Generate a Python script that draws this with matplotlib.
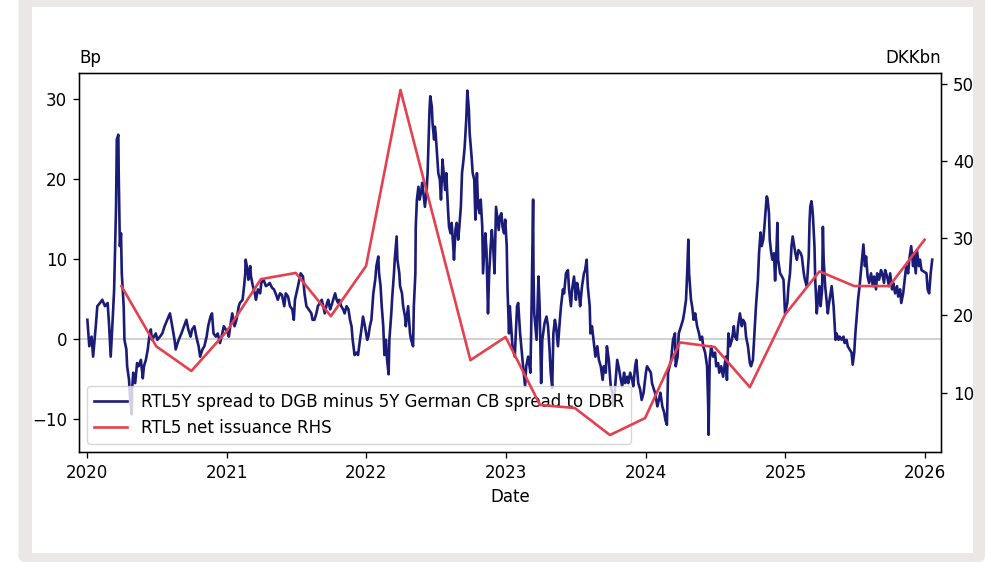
import pandas as pd
import matplotlib
matplotlib.use("Agg")
import matplotlib.pyplot as plt
import matplotlib.dates as mdates
from matplotlib.patches import Rectangle, FancyBboxPatch
from matplotlib.transforms import IdentityTransform

# RTL5Y spread to DGB minus 5Y German CB spread to DBR, bp (date, value)
spread_2020 = [
    ("2020-01-02", 2.4), ("2020-01-07", -0.9), ("2020-01-13", 0.3), ("2020-01-17", -2.2),
    ("2020-01-24", 1.6), ("2020-01-28", 4.1), ("2020-02-04", 4.5), ("2020-02-10", 4.9),
    ("2020-02-17", 4.1), ("2020-02-24", 4.5), ("2020-02-28", 1.6), ("2020-03-03", -2.2),
    ("2020-03-09", 3.2), ("2020-03-12", 6.2), ("2020-03-17", 16.5), ("2020-03-19", 24.9),
    ("2020-03-23", 25.5), ("2020-03-24", 20.7), ("2020-03-27", 11.6), ("2020-03-30", 13.2),
    ("2020-04-01", 8.2), ("2020-04-06", 4.1), ("2020-04-08", -0.1), ("2020-04-13", -1.3),
    ("2020-04-15", -3.4), ("2020-04-20", -5.1), ("2020-04-21", -6.1), ("2020-04-24", -8.0),
    ("2020-04-27", -9.4), ("2020-04-28", -6.3), ("2020-05-01", -4.2), ("2020-05-06", -5.5),
    ("2020-05-11", -3.0), ("2020-05-15", -3.4), ("2020-05-21", -2.6), ("2020-05-26", -4.9),
    ("2020-05-29", -3.4), ("2020-06-03", -2.6), ("2020-06-08", -1.3), ("2020-06-12", 0.3),
    ("2020-06-16", 1.2), ("2020-06-19", -0.1), ("2020-06-24", 0.3), ("2020-06-29", 0.7),
    ("2020-07-03", -0.1), ("2020-07-10", 0.3), ("2020-07-16", 0.7), ("2020-07-22", 1.6),
    ("2020-07-29", 2.4), ("2020-08-05", 3.2), ("2020-08-11", 1.6), ("2020-08-17", -0.1),
    ("2020-08-20", -1.3), ("2020-08-25", -0.5), ("2020-08-28", -0.1), ("2020-09-04", 0.7),
    ("2020-09-11", 1.6), ("2020-09-17", 2.4), ("2020-09-22", 1.2), ("2020-09-28", 0.3),
    ("2020-10-02", 1.2), ("2020-10-08", 1.6), ("2020-10-13", 0.3), ("2020-10-19", -0.9),
    ("2020-10-23", -2.2), ("2020-10-29", -1.3), ("2020-11-03", -0.9), ("2020-11-09", 0.3),
    ("2020-11-13", 1.6), ("2020-11-19", 2.8), ("2020-11-23", 3.2), ("2020-11-27", 0.7),
    ("2020-12-03", 0.3), ("2020-12-08", 0.7), ("2020-12-14", -0.5), ("2020-12-18", 0.3),
    ("2020-12-24", 1.6),
]
spread_2021 = [
    ("2021-01-04", 0.7), ("2021-01-06", 0.3), ("2021-01-11", 2.0), ("2021-01-15", 3.2),
    ("2021-01-21", 1.6), ("2021-01-26", 2.4), ("2021-02-01", 4.1), ("2021-02-04", 4.5),
    ("2021-02-11", 4.9), ("2021-02-15", 6.6), ("2021-02-18", 8.2), ("2021-02-19", 9.9),
    ("2021-02-24", 8.6), ("2021-02-26", 7.4), ("2021-03-03", 9.1), ("2021-03-05", 7.8),
    ("2021-03-10", 6.6), ("2021-03-15", 5.7), ("2021-03-18", 4.9), ("2021-03-23", 6.2),
    ("2021-03-29", 5.7), ("2021-04-01", 7.0), ("2021-04-07", 7.4), ("2021-04-13", 6.6),
    ("2021-04-19", 6.8), ("2021-04-23", 7.0), ("2021-04-29", 6.4), ("2021-05-04", 6.2),
    ("2021-05-10", 5.5), ("2021-05-14", 4.9), ("2021-05-20", 5.7), ("2021-05-25", 5.5),
    ("2021-05-31", 4.1), ("2021-06-04", 5.7), ("2021-06-10", 5.3), ("2021-06-15", 4.1),
    ("2021-06-21", 3.7), ("2021-06-25", 2.4), ("2021-06-28", 4.9), ("2021-07-06", 6.6),
    ("2021-07-13", 8.2), ("2021-07-19", 7.8), ("2021-07-23", 5.7), ("2021-07-28", 4.1),
    ("2021-08-03", 3.7), ("2021-08-10", 3.2), ("2021-08-13", 2.4), ("2021-08-18", 2.4),
    ("2021-08-23", 3.2), ("2021-08-27", 4.1), ("2021-09-01", 4.5), ("2021-09-06", 4.9),
    ("2021-09-10", 4.1), ("2021-09-14", 3.2), ("2021-09-20", 4.5), ("2021-09-23", 4.9),
    ("2021-09-28", 3.7), ("2021-10-01", 4.1), ("2021-10-06", 4.9), ("2021-10-11", 5.7),
    ("2021-10-15", 4.9), ("2021-10-19", 4.5), ("2021-10-22", 4.9), ("2021-10-27", 4.1),
    ("2021-11-01", 3.7), ("2021-11-05", 3.2), ("2021-11-10", 4.1), ("2021-11-15", 3.7),
    ("2021-11-19", 2.4), ("2021-11-23", 1.6), ("2021-11-26", -0.1), ("2021-12-01", -2.0),
    ("2021-12-06", -1.7), ("2021-12-10", -2.0), ("2021-12-14", -0.5), ("2021-12-20", 1.6),
    ("2021-12-23", 2.8), ("2021-12-28", 1.6),
]
spread_2022 = [
    ("2022-01-03", -0.1), ("2022-01-06", 0.3), ("2022-01-10", 1.6), ("2022-01-14", 2.4),
    ("2022-01-19", 5.7), ("2022-01-24", 7.4), ("2022-01-27", 9.1), ("2022-02-01", 10.3),
    ("2022-02-03", 8.2), ("2022-02-07", 6.6), ("2022-02-10", 4.1), ("2022-02-14", 1.6),
    ("2022-02-17", -2.0), ("2022-02-21", -0.1), ("2022-02-24", -2.6), ("2022-02-28", -4.4),
    ("2022-03-02", -0.1), ("2022-03-07", 3.2), ("2022-03-09", 4.9), ("2022-03-14", 8.2),
    ("2022-03-16", 9.9), ("2022-03-21", 12.8), ("2022-03-23", 9.9), ("2022-03-28", 8.2),
    ("2022-03-30", 6.6), ("2022-04-04", 5.7), ("2022-04-07", 4.1), ("2022-04-12", 2.8),
    ("2022-04-14", 1.6), ("2022-04-20", 4.1), ("2022-04-25", 0.7), ("2022-04-28", -0.1),
    ("2022-05-03", -0.9), ("2022-05-05", 4.1), ("2022-05-09", 8.2), ("2022-05-10", 14.0),
    ("2022-05-13", 17.4), ("2022-05-17", 19.0), ("2022-05-20", 17.4), ("2022-05-24", 18.3),
    ("2022-05-27", 19.5), ("2022-05-31", 17.8), ("2022-06-03", 16.5), ("2022-06-07", 18.3),
    ("2022-06-10", 20.7), ("2022-06-13", 25.7), ("2022-06-15", 28.6), ("2022-06-17", 30.3),
    ("2022-06-21", 29.0), ("2022-06-23", 26.9), ("2022-06-27", 24.9), ("2022-06-29", 26.5),
    ("2022-07-01", 25.7), ("2022-07-05", 22.8), ("2022-07-08", 20.7), ("2022-07-12", 19.9),
    ("2022-07-15", 17.4), ("2022-07-19", 22.4), ("2022-07-22", 20.7), ("2022-07-26", 18.6),
    ("2022-07-29", 20.7), ("2022-08-02", 16.5), ("2022-08-05", 14.0), ("2022-08-09", 13.2),
    ("2022-08-12", 14.5), ("2022-08-16", 11.6), ("2022-08-18", 9.9), ("2022-08-22", 13.7),
    ("2022-08-25", 14.5), ("2022-08-29", 12.4), ("2022-09-01", 14.0), ("2022-09-05", 16.5),
    ("2022-09-08", 20.7), ("2022-09-12", 22.4), ("2022-09-15", 24.0), ("2022-09-19", 27.3),
    ("2022-09-21", 29.8), ("2022-09-22", 31.0), ("2022-09-26", 28.6), ("2022-09-28", 25.7),
    ("2022-10-03", 22.8), ("2022-10-06", 20.7), ("2022-10-10", 19.9), ("2022-10-13", 14.9),
    ("2022-10-17", 20.7), ("2022-10-20", 16.5), ("2022-10-24", 15.7), ("2022-10-27", 17.4),
    ("2022-10-31", 14.0), ("2022-11-02", 8.2), ("2022-11-04", 9.9), ("2022-11-08", 13.2),
    ("2022-11-11", 11.1), ("2022-11-15", 3.2), ("2022-11-18", 8.2), ("2022-11-22", 11.6),
    ("2022-11-25", 13.6), ("2022-11-29", 11.1), ("2022-12-02", 8.2), ("2022-12-06", 16.5),
    ("2022-12-09", 15.3), ("2022-12-13", 13.6), ("2022-12-16", 15.3), ("2022-12-20", 15.7),
    ("2022-12-23", 14.0), ("2022-12-27", 13.2), ("2022-12-30", 14.9),
]
spread_2023 = [
    ("2023-01-03", 11.6), ("2023-01-05", 6.2), ("2023-01-09", 0.7), ("2023-01-11", 4.1),
    ("2023-01-18", -0.9), ("2023-01-24", -2.2), ("2023-01-30", 4.1), ("2023-02-02", 4.5),
    ("2023-02-07", 0.7), ("2023-02-14", -3.0), ("2023-02-20", -5.9), ("2023-02-23", -3.4),
    ("2023-02-28", -2.2), ("2023-03-06", -4.2), ("2023-03-09", 4.1), ("2023-03-13", 17.4),
    ("2023-03-14", 8.2), ("2023-03-16", 3.2), ("2023-03-22", -0.1), ("2023-03-27", 7.8),
    ("2023-03-30", 4.1), ("2023-04-03", -5.5), ("2023-04-06", -0.1), ("2023-04-12", 2.0),
    ("2023-04-17", 2.8), ("2023-04-21", 1.6), ("2023-04-25", -1.3), ("2023-04-28", -4.2),
    ("2023-05-02", -6.1), ("2023-05-05", 0.7), ("2023-05-09", 2.4), ("2023-05-12", 1.6),
    ("2023-05-17", -0.9), ("2023-05-22", 2.4), ("2023-05-25", 4.1), ("2023-05-30", 6.2),
    ("2023-06-02", 5.7), ("2023-06-07", 8.2), ("2023-06-12", 8.6), ("2023-06-15", 6.2),
    ("2023-06-20", 4.1), ("2023-06-23", 6.2), ("2023-06-28", 7.8), ("2023-07-03", 4.9),
    ("2023-07-06", 7.0), ("2023-07-11", 5.7), ("2023-07-14", 4.1), ("2023-07-19", 6.6),
    ("2023-07-24", 8.2), ("2023-07-27", 8.6), ("2023-07-31", 9.9), ("2023-08-03", 6.6),
    ("2023-08-08", 4.1), ("2023-08-10", 0.7), ("2023-08-14", 1.6), ("2023-08-18", -0.1),
    ("2023-08-23", -2.2), ("2023-08-28", -0.9), ("2023-09-01", -2.6), ("2023-09-06", -3.4),
    ("2023-09-11", -5.1), ("2023-09-14", -3.4), ("2023-09-19", -4.2), ("2023-09-22", -0.9),
    ("2023-09-27", -2.6), ("2023-10-02", -5.9), ("2023-10-06", -6.7), ("2023-10-10", -8.4),
    ("2023-10-13", -6.3), ("2023-10-19", -2.6), ("2023-10-24", -3.8), ("2023-10-27", -4.7),
    ("2023-11-01", -5.9), ("2023-11-06", -4.2), ("2023-11-09", -5.5), ("2023-11-14", -4.7),
    ("2023-11-17", -5.5), ("2023-11-22", -4.2), ("2023-11-27", -5.1), ("2023-11-30", -5.9),
    ("2023-12-05", -3.4), ("2023-12-08", -2.6), ("2023-12-13", -5.5), ("2023-12-18", -6.3),
    ("2023-12-22", -7.6), ("2023-12-27", -6.7),
]
spread_2024 = [
    ("2024-01-02", -4.2), ("2024-01-05", -3.4), ("2024-01-10", -3.8), ("2024-01-15", -4.2),
    ("2024-01-18", -5.5), ("2024-01-23", -6.3), ("2024-01-26", -6.7), ("2024-02-01", -8.4),
    ("2024-02-05", -7.6), ("2024-02-09", -6.7), ("2024-02-14", -8.4), ("2024-02-19", -9.2),
    ("2024-02-22", -10.1), ("2024-02-26", -10.7), ("2024-02-29", -4.2), ("2024-03-04", -3.4),
    ("2024-03-08", -2.6), ("2024-03-13", -0.1), ("2024-03-18", 0.7), ("2024-03-20", -3.4),
    ("2024-03-25", -2.2), ("2024-03-28", 0.7), ("2024-04-03", 1.6), ("2024-04-08", 2.4),
    ("2024-04-11", 3.2), ("2024-04-16", 4.9), ("2024-04-19", 8.2), ("2024-04-22", 12.4),
    ("2024-04-24", 8.2), ("2024-04-29", 4.9), ("2024-05-02", 4.1), ("2024-05-06", 2.4),
    ("2024-05-10", 3.2), ("2024-05-15", 1.6), ("2024-05-20", 0.7), ("2024-05-23", -0.1),
    ("2024-05-28", 0.3), ("2024-05-31", -0.9), ("2024-06-05", -1.7), ("2024-06-10", -3.4),
    ("2024-06-13", -8.4), ("2024-06-14", -11.95), ("2024-06-17", -2.6), ("2024-06-21", -0.9),
    ("2024-06-26", -2.2), ("2024-07-01", -1.7), ("2024-07-04", -3.4), ("2024-07-09", -3.0),
    ("2024-07-12", -4.2), ("2024-07-17", -3.4), ("2024-07-22", -4.7), ("2024-07-29", -2.2),
    ("2024-08-01", -5.1), ("2024-08-05", 0.7), ("2024-08-09", -0.9), ("2024-08-14", -0.1),
    ("2024-08-19", 1.6), ("2024-08-22", 0.3), ("2024-08-27", -0.1), ("2024-08-30", 1.6),
    ("2024-09-04", 3.2), ("2024-09-09", 1.6), ("2024-09-12", 2.4), ("2024-09-17", 2.0),
    ("2024-09-20", 0.3), ("2024-09-25", -0.9), ("2024-09-30", -3.0), ("2024-10-03", -3.4),
    ("2024-10-08", -2.6), ("2024-10-11", -0.1), ("2024-10-16", 4.1), ("2024-10-21", 7.4),
    ("2024-10-24", 10.7), ("2024-10-28", 13.3), ("2024-10-31", 11.6), ("2024-11-04", 12.4),
    ("2024-11-07", 14.0), ("2024-11-11", 16.5), ("2024-11-13", 17.8), ("2024-11-15", 17.6),
    ("2024-11-19", 15.7), ("2024-11-21", 12.4), ("2024-11-25", 10.7), ("2024-11-28", 9.9),
    ("2024-12-02", 10.7), ("2024-12-05", 7.3), ("2024-12-09", 11.6), ("2024-12-11", 14.5),
    ("2024-12-13", 9.9), ("2024-12-18", 8.2), ("2024-12-23", 7.8), ("2024-12-27", 7.4),
    ("2024-12-31", 3.2),
]
spread_2025 = [
    ("2025-01-06", 4.5), ("2025-01-09", 6.6), ("2025-01-13", 8.2), ("2025-01-17", 11.6),
    ("2025-01-20", 12.8), ("2025-01-24", 11.6), ("2025-01-27", 10.7), ("2025-01-31", 9.9),
    ("2025-02-04", 11.1), ("2025-02-10", 10.7), ("2025-02-13", 10.3), ("2025-02-18", 8.2),
    ("2025-02-21", 7.4), ("2025-02-26", 6.6), ("2025-03-03", 10.3), ("2025-03-05", 14.5),
    ("2025-03-07", 16.5), ("2025-03-10", 17.2), ("2025-03-12", 16.5), ("2025-03-14", 15.3),
    ("2025-03-18", 11.6), ("2025-03-20", 7.4), ("2025-03-24", 3.2), ("2025-03-27", 4.9),
    ("2025-03-31", 6.6), ("2025-04-03", 4.1), ("2025-04-07", 6.2), ("2025-04-09", 14.0),
    ("2025-04-11", 9.9), ("2025-04-15", 6.6), ("2025-04-22", 3.2), ("2025-04-24", 4.1),
    ("2025-04-29", 5.7), ("2025-05-02", 6.6), ("2025-05-07", 4.1), ("2025-05-12", -0.1),
    ("2025-05-15", 0.7), ("2025-05-20", -0.1), ("2025-05-23", 0.3), ("2025-05-28", -0.1),
    ("2025-06-02", 0.3), ("2025-06-05", -0.5), ("2025-06-10", -0.1), ("2025-06-13", -0.9),
    ("2025-06-18", -1.3), ("2025-06-23", -1.7), ("2025-06-26", -3.2), ("2025-06-30", -1.7),
    ("2025-07-03", 0.7), ("2025-07-07", 3.2), ("2025-07-10", 4.9), ("2025-07-14", 6.6),
    ("2025-07-17", 8.2), ("2025-07-21", 10.3), ("2025-07-24", 11.8), ("2025-07-28", 9.1),
    ("2025-07-31", 10.3), ("2025-08-04", 7.8), ("2025-08-08", 7.0), ("2025-08-13", 8.2),
    ("2025-08-18", 6.6), ("2025-08-21", 7.8), ("2025-08-26", 6.2), ("2025-08-29", 8.2),
    ("2025-09-03", 7.4), ("2025-09-08", 8.6), ("2025-09-11", 8.2), ("2025-09-16", 7.0),
    ("2025-09-19", 8.6), ("2025-09-24", 7.8), ("2025-09-29", 6.6), ("2025-10-02", 8.2),
    ("2025-10-07", 6.2), ("2025-10-10", 7.0), ("2025-10-15", 5.7), ("2025-10-20", 6.6),
    ("2025-10-23", 5.3), ("2025-10-28", 6.2), ("2025-10-31", 4.5), ("2025-11-05", 5.7),
    ("2025-11-10", 7.8), ("2025-11-13", 9.1), ("2025-11-18", 8.2), ("2025-11-21", 9.9),
    ("2025-11-26", 11.6), ("2025-12-01", 9.1), ("2025-12-03", 10.7), ("2025-12-08", 8.2),
    ("2025-12-11", 11.1), ("2025-12-16", 9.1), ("2025-12-19", 9.9), ("2025-12-23", 8.6),
    ("2026-01-05", 8.2), ("2026-01-08", 6.2), ("2026-01-12", 5.7), ("2026-01-16", 8.2),
    ("2026-01-20", 9.9),
]

# RTL5 net issuance per quarter, DKKbn
issuance_dates = ["2020-03-31", "2020-06-30", "2020-09-30", "2020-12-31",
                  "2021-03-31", "2021-06-30", "2021-09-30", "2021-12-31",
                  "2022-03-31", "2022-09-30", "2022-12-31",
                  "2023-03-31", "2023-06-30", "2023-09-30", "2023-12-31",
                  "2024-03-31", "2024-06-30", "2024-09-30", "2024-12-31",
                  "2025-03-31", "2025-06-30", "2025-09-30", "2025-12-31"]
issuance_dkkbn = [23.8, 16.0, 12.8, 17.9,
                  24.7, 25.5, 19.9, 26.4,
                  49.2, 14.2, 17.2,
                  8.4, 8.0, 4.5, 6.7,
                  16.5, 15.9, 10.7, 20.1,
                  25.7, 23.8, 23.8, 29.8]

spread = spread_2020 + spread_2021 + spread_2022 + spread_2023 + spread_2024 + spread_2025
spread_dates = pd.to_datetime([d for d, v in spread])
spread_bp = [v for d, v in spread]

fs = 12
plt.rcParams['font.size'] = fs

fig = plt.figure(figsize=(9.87, 5.62), dpi=100)

# beige card border with white panel
fig.add_artist(FancyBboxPatch((18.5, 0), 966.5, 600, boxstyle="round,pad=0,rounding_size=7",
                              transform=IdentityTransform(), fc="#ebe7e4", ec="none", zorder=-3))
fig.add_artist(Rectangle((32, 8.7), 941.3, 546.6, transform=IdentityTransform(),
                         fc="white", ec="none", zorder=-2))

ax = fig.add_axes([0.0800, 0.1957, 0.8734, 0.6744])
ax2 = ax.twinx()

ax.axhline(0, color="#c9c9c9", lw=1.2, zorder=1)
l1, = ax.plot(spread_dates, spread_bp, color="#1b1b78", lw=1.9, zorder=2,
              label="RTL5Y spread to DGB minus 5Y German CB spread to DBR")
l2, = ax2.plot(pd.to_datetime(issuance_dates), issuance_dkkbn, color="#e5404f", lw=1.9,
               label="RTL5 net issuance RHS")

ax.set_xlim(pd.Timestamp("2019-12-11"), pd.Timestamp("2026-02-12"))
ax.set_ylim(-14.1, 33.2)
ax2.set_ylim(2.3, 51.4)
ax.set_yticks([-10, 0, 10, 20, 30])
ax2.set_yticks([10, 20, 30, 40, 50])

ax.xaxis.set_major_locator(mdates.YearLocator())
ax.xaxis.set_major_formatter(mdates.DateFormatter("%Y"))
ax.set_xlabel("Date", fontsize=fs, labelpad=4)

for a in (ax, ax2):
    a.tick_params(labelsize=fs, length=4.1, width=0.94, pad=4.5)
    for s in a.spines.values():
        s.set_linewidth(0.94)

ax.set_title("Bp", loc="left", fontsize=fs, pad=7)
ax2.set_title("DKKbn", loc="right", fontsize=fs, pad=7)

ax.legend([l1, l2], [l1.get_label(), l2.get_label()], loc="lower left", fontsize=fs)

fig.savefig("out.png", dpi=100)
